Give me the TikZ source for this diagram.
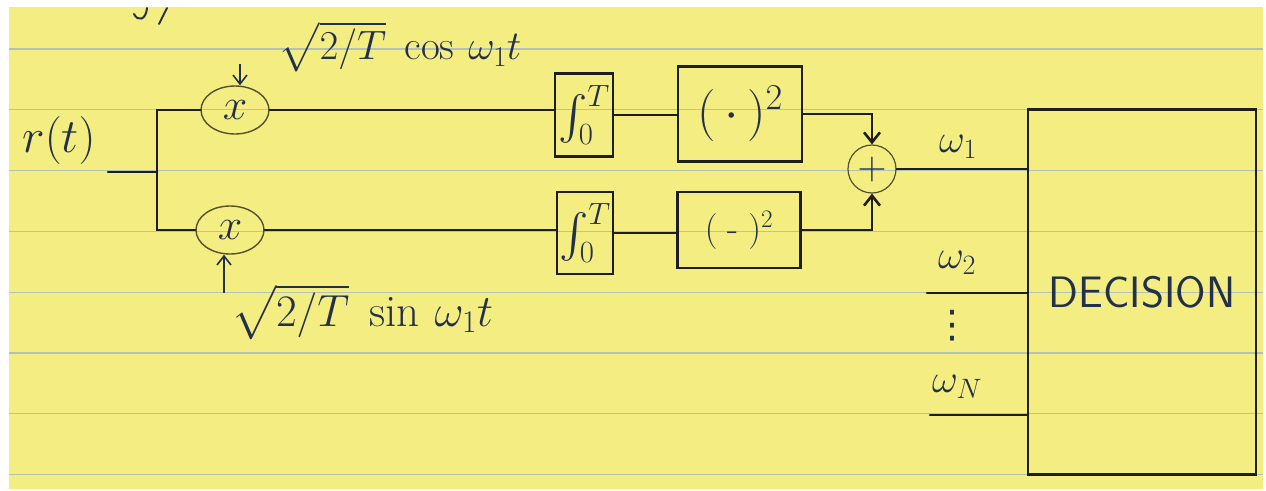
\RequirePackage{fix-cm}
\documentclass[tikz,border=0pt]{standalone}
\usepackage{fontspec}
\newfontfamily\dejavu{DejaVu Sans}
\usetikzlibrary{shapes.geometric,arrows.meta}
\DeclareFontShape{OMX}{cmex}{m}{n}{<->cmex10}{}
\definecolor{paper}{HTML}{F4ED82}
\definecolor{rule}{HTML}{B2C2B4}
\definecolor{ink}{HTML}{1E1E1C}
\definecolor{pen}{HTML}{23304A}
\definecolor{pencil}{HTML}{55502E}
\begin{document}
\begin{tikzpicture}[x=1pt,y=-1pt,
  wire/.style={draw=ink,line width=2.6pt,line cap=round},
  feed/.style={draw=pen,line width=1.6pt,-{Straight Barb[length=9pt,width=14pt]}},
  sumtip/.style={-{Straight Barb[length=10pt,width=16pt]}},
  mixer/.style={ellipse,draw=pencil,line width=1.4pt,minimum width=68pt,minimum height=48pt,inner sep=0pt,text=pen,font=\fontsize{44}{48}\selectfont},
  block/.style={draw=ink,line width=2.8pt,inner sep=0pt,text=pen,font=\fontsize{44}{48}\selectfont},
  adder/.style={circle,draw=pencil,line width=1.2pt,minimum size=48pt,inner sep=0pt,text=pen,font=\fontsize{40}{44}\selectfont},
  hand/.style={text=pen,inner sep=0pt,font=\fontsize{40}{44}\selectfont}]
\useasboundingbox (0,0) rectangle (1266,490);
\fill[paper] (9,7) rectangle (1263,489);
\foreach \k in {0,...,7}
  \draw[rule,line width=1.2pt] (9,{49+60.8*\k}) -- (1263,{49+60.8*\k});
% tail of the line above
\draw[pen,line width=2pt,line cap=round] (147,8) .. controls (146,20) and (138,22) .. (134,14);
\draw[pen,line width=2pt,line cap=round] (167,8) -- (159,24);

\node[hand,font=\fontsize{48}{52}\selectfont] (rt) at (59,140) {$r(t)$};
\coordinate (in) at (108,172);
\coordinate (split) at (157,172);
\node[mixer] (mulc) at (235,110) {$x$};
\node[mixer] (muls) at (230,230) {$x$};
\node[hand,font=\fontsize{41}{46}\selectfont] (cosl) at (400,47) {$\sqrt{2/T}\;\cos\,\omega_1 t$};
\node[hand,font=\fontsize{45}{50}\selectfont] (sinl) at (362,312) {$\sqrt{2/T}\;\sin\,\omega_1 t$};
\coordinate (cosin) at (240,64);
\coordinate (sinin) at (224,293);
\draw[feed] (cosin) -- (cosin |- mulc.north);
\draw[feed] (sinin) -- (sinin |- muls.south);

\node[block,minimum width=58pt,minimum height=83pt] (intc) at (584,115) {$\int_0^T$};
\node[block,minimum width=56pt,minimum height=82pt] (ints) at (585,233) {$\int_0^T$};
\node[block,minimum width=124pt,minimum height=95pt,font=\fontsize{52}{56}\selectfont] (sqc) at (740,114) {$(\,\cdot\,)^2$};
\node[block,minimum width=123pt,minimum height=76pt,font=\fontsize{36}{40}\selectfont] (sqs) at (739,230) {$(\;\mbox{-}\;)^2$};
\node[adder] (sum) at (872,169) {$+$};
\node[block,minimum width=228pt,minimum height=365pt,font=\sffamily\fontsize{44}{48}\selectfont] (dec) at (1142,292) {DECISION};

\draw[wire] (in) -- (split);
\draw[wire] (mulc.west) -| (split) |- (muls.west);
\draw[wire] (mulc.east) -- (mulc.east -| intc.west);
\draw[wire] (muls.east) -- (muls.east -| ints.west);
\draw[wire] (intc.east) -- (intc.east -| sqc.west);
\draw[wire] (ints.east) -- (ints.east -| sqs.west);
\draw[wire,sumtip] (sqc.east) -| (sum.north);
\draw[wire,sumtip] (sqs.east) -| (sum.south);
\draw[wire] (sum.east) -- (sum.east -| dec.west);
\node[hand] (w1) at (958,147) {$\omega_1$};

\coordinate (w2in) at (927,293);
\draw[wire] (w2in) -- (w2in -| dec.west);
\node[hand] (w2) at (957,263) {$\omega_2$};
\node[hand,font=\dejavu\fontsize{38}{40}\selectfont] (dots) at (952,326) {⋮};
\coordinate (wNin) at (930,415);
\draw[wire] (wNin) -- (wNin -| dec.west);
\node[hand] (wN) at (957,387) {$\omega_N$};
\end{tikzpicture}
\end{document}
